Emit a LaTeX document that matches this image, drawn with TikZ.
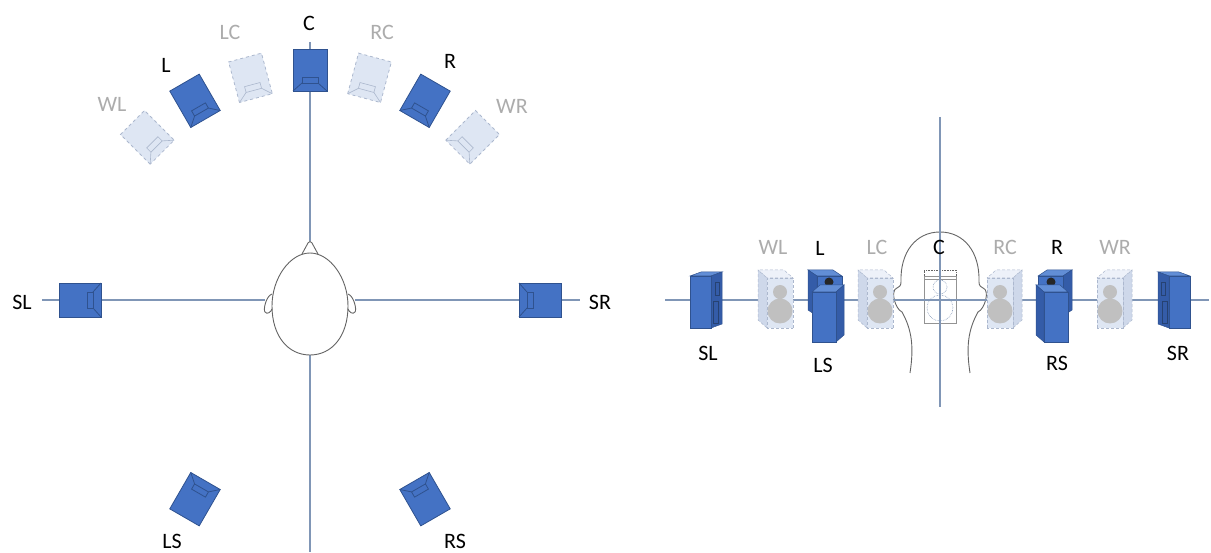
\documentclass[tikz,border=0pt]{standalone}
\usepackage{fontspec}
\setmainfont{Carlito}
\usepackage{tikz}
\usetikzlibrary{positioning}

\definecolor{spkblue}{RGB}{68,114,196}
\definecolor{spkedge}{RGB}{47,82,143}
\definecolor{spkside}{RGB}{52,92,168}
\definecolor{spktop}{RGB}{98,142,214}
\definecolor{ghostfill}{RGB}{222,230,243}
\definecolor{ghostside}{RGB}{206,216,234}
\definecolor{ghosttop}{RGB}{237,241,249}
\definecolor{ghostedge}{RGB}{172,184,206}
\definecolor{ghosttext}{RGB}{172,172,172}
\definecolor{conecol}{RGB}{192,192,192}
\definecolor{axiscol}{RGB}{128,150,182}
\definecolor{headcol}{RGB}{100,100,100}

\tikzstyle{axis} = [draw=axiscol, line width=1.2pt]
\tikzstyle{headline} = [draw=headcol, line width=0.9pt]
\tikzstyle{lab} = [font=\fontsize{22}{26}\selectfont, inner sep=0pt]
\tikzstyle{ghostlab} = [lab, text=ghosttext]

\tikzset{
  % speaker seen from above, driver facing -y
  pics/topspk/.style={code={
    \draw[#1 box] (-17,-21) rectangle (17,21);
    \draw[#1 drv] (-8,-13) rectangle (8,-7);
    \draw[#1 drv] (-8,-13) -- (-17,-21) (8,-13) -- (17,-21);
  }},
  on box/.style={fill=spkblue, draw=spkedge, line width=0.8pt},
  on drv/.style={draw=spkedge, line width=0.8pt},
  off box/.style={fill=ghostfill, draw=ghostedge, dashed, line width=0.8pt},
  off drv/.style={draw=ghostedge, line width=0.6pt},
  % front view cabinets, side face on the right
  pics/ghostcab/.style={code={
    \filldraw[fill=ghosttop, draw=ghostedge, densely dashed, line width=0.5pt] (-13,50) -- (13,50) -- (22,58) -- (-4,58) -- cycle;
    \filldraw[fill=ghostside, draw=ghostedge, densely dashed, line width=0.5pt] (13,0) -- (22,8) -- (22,58) -- (13,50) -- cycle;
    \filldraw[fill=ghostfill, draw=ghostedge, densely dashed, line width=0.5pt] (-13,0) rectangle (13,50);
    \fill[conecol] (0,36) circle (7) (0,17) circle (12.5);
  }},
  pics/darkcab/.style n args={4}{code={
    \filldraw[fill=spktop, draw=spkedge, line width=0.5pt] (-#1/2,#2) -- (#1/2,#2) -- (#1/2+#3,#2+#4) -- (-#1/2+#3,#2+#4) -- cycle;
    \filldraw[fill=spkside, draw=spkedge, line width=0.5pt] (#1/2,0) -- (#1/2+#3,#4) -- (#1/2+#3,#2+#4) -- (#1/2,#2) -- cycle;
    \filldraw[fill=spkblue, draw=spkedge, line width=0.5pt] (-#1/2,0) rectangle (#1/2,#2);
  }},
  drvline/.style={draw=spkedge!80!black, line width=0.6pt}
}

\begin{document}
\begin{tikzpicture}[x=1pt, y=1pt]
\useasboundingbox (0,0) rectangle (1211,552);

%%% top view
\coordinate (axTop) at (310,510);
\coordinate (axBot) at (310,0);
\coordinate (axL) at (42,252);
\coordinate (axR) at (580,252);
\coordinate (nose) at (310,311);
\coordinate (chin) at (310,197);
\coordinate (earL) at (265,252);
\coordinate (earR) at (355,252);

\draw[axis] (axTop) -- (nose);
\draw[axis] (chin) -- (axBot);
\draw[axis] (axL) -- (earL);
\draw[axis] (earR) -- (axR);

\begin{scope}[shift={(310,252)}]
  \coordinate (head) at (0,0);
  \draw[headline, fill=white] (0,47) .. controls (20,47) and (38,22) .. (38,-6)
    .. controls (38,-36) and (22,-55) .. (0,-55)
    .. controls (-22,-55) and (-38,-36) .. (-38,-6)
    .. controls (-38,22) and (-20,47) .. (0,47) -- cycle;
  \draw[headline] (-8,46) -- (-2,57) .. controls (-1,59) and (1,59) .. (2,57) -- (8,46);
  \draw[headline] (-38,6) .. controls (-44,4) and (-47,-10) .. (-45,-12)
    .. controls (-43,-15) and (-39,-12) .. (-38,-9);
  \draw[headline] (38,6) .. controls (44,4) and (47,-10) .. (45,-12)
    .. controls (43,-15) and (39,-12) .. (38,-9);

  \pic[rotate=45] at (135:230) {topspk=off};
  \pic[rotate=30] at (120:230) {topspk=on};
  \pic[rotate=15] at (105:230) {topspk=off};
  \pic[rotate=0] at (90:230) {topspk=on};
  \pic[rotate=-15] at (75:230) {topspk=off};
  \pic[rotate=-30] at (60:230) {topspk=on};
  \pic[rotate=-45] at (45:230) {topspk=off};
  \pic[rotate=90] at (180:230) {topspk=on};
  \pic[rotate=-90] at (0:230) {topspk=on};
  \pic[rotate=150] at (240:230) {topspk=on};
  \pic[rotate=210] at (300:230) {topspk=on};
\end{scope}

\node (tWL) [ghostlab] at (112,448) {WL};
\node (tL) [lab] at (166,487) {L};
\node (tLC) [ghostlab] at (230,520) {LC};
\node (tC) [lab] at (309,529) {C};
\node (tRC) [ghostlab] at (382,520) {RC};
\node (tR) [lab] at (450,491) {R};
\node (tWR) [ghostlab] at (512,446) {WR};
\node (tSL) [lab] at (22,250) {SL};
\node (tSR) [lab] at (600,250) {SR};
\node (tLS) [lab] at (172,11) {LS};
\node (tRS) [lab] at (455,11) {RS};

%%% front view
\coordinate (vTop) at (940,435);
\coordinate (vBot) at (940,145);
\coordinate (hL) at (665,252);
\coordinate (hR) at (1209,252);

% centre speaker behind the head
\draw[headcol!70, line width=0.6pt] (924,229) rectangle (956,276);
\draw[headcol!70, line width=0.6pt] (924,273) -- (956,273);
\draw[headcol, densely dotted, line width=0.6pt] (924,276) -- (924,282) -- (956,282) -- (956,276);
\draw[axiscol, densely dotted, line width=0.6pt] (940,265) circle (7) (940,244) circle (13);

\draw[headline] (910,179) .. controls (914,205) and (912,222) .. (902,240)
  .. controls (895,243) and (890,262) .. (897,264)
  .. controls (899,265) and (901,266) .. (901,270)
  .. controls (900,300) and (916,320) .. (940,320)
  .. controls (964,320) and (980,300) .. (979,270)
  .. controls (979,266) and (981,265) .. (983,264)
  .. controls (990,262) and (985,243) .. (978,240)
  .. controls (968,222) and (966,205) .. (970,179);

\draw[axis] (hL) -- (hR);
\draw[axis] (vTop) -- (vBot);

% surrounds
\pic at (700.5,224) {darkcab={21}{52}{11}{4}};
\draw[drvline] (715,257) rectangle (719,270);
\draw[drvline] (713,229) rectangle (718,251);
\pic[xscale=-1] at (1179.5,224) {darkcab={21}{52}{11}{4}};
\draw[drvline] (1165,257) rectangle (1161,270);
\draw[drvline] (1167,229) rectangle (1162,251);

% wides and centres
\pic[xscale=-1] at (780,224) {ghostcab};
\pic[xscale=-1] at (880,224) {ghostcab};
\pic at (1000,224) {ghostcab};
\pic at (1110,224) {ghostcab};

% fronts with rears in front of them
\pic[xscale=-1] at (829.5,236) {darkcab={25}{40}{9}{6}};
\fill[black!85] (829,270) circle (4.5);
\pic at (824,210) {darkcab={24}{50}{8}{7}};
\pic at (1050.5,236) {darkcab={25}{40}{9}{6}};
\fill[black!85] (1051,270) circle (4.5);
\pic[xscale=-1] at (1056,210) {darkcab={24}{50}{8}{7}};

\node (fWL) [ghostlab] at (773,305) {WL};
\node (fL) [lab] at (820,304) {L};
\node (fLC) [ghostlab] at (877,305) {LC};
\node (fC) [lab] at (939,305) {C};
\node (fRC) [ghostlab] at (1005,305) {RC};
\node (fR) [lab] at (1057,305) {R};
\node (fWR) [ghostlab] at (1115,305) {WR};
\node (fSL) [lab] at (708,199) {SL};
\node (fLS) [lab] at (823,187) {LS};
\node (fRS) [lab] at (1057,189) {RS};
\node (fSR) [lab] at (1178,199) {SR};

\end{tikzpicture}
\end{document}
